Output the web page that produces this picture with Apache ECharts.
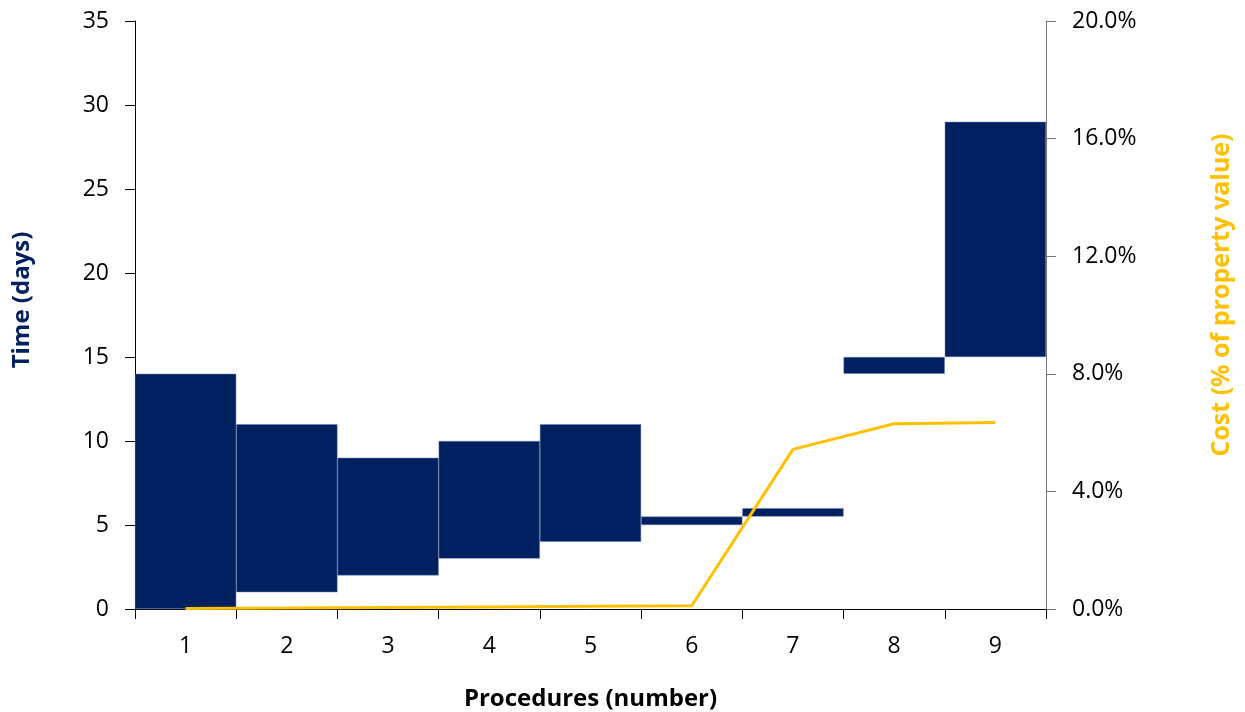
<!DOCTYPE html>
<html>
<head>
<meta charset="utf-8">
<script src="https://cdn.jsdelivr.net/npm/echarts@6/dist/echarts.min.js"></script>
<style>html,body{margin:0;padding:0;background:#fff}#c{width:1245px;height:712px}</style>
</head>
<body>
<div id="c"></div>
<script>
const categories = ['1','2','3','4','5','6','7','8','9'];
const timeStart = [0, 1, 2, 3, 4, 5, 5.5, 14, 15];
const timeEnd = [14, 11, 9, 10, 11, 5.5, 6, 15, 29];
const costPct = [0.02, 0.03, 0.05, 0.07, 0.09, 0.11, 5.43, 6.3, 6.34];
const leftTicks = [0, 5, 10, 15, 20, 25, 30, 35];
const rightTicks = [0, 4, 8, 12, 16, 20];

const duration = timeEnd.map((e, i) => +(e - timeStart[i]).toFixed(3));
const FONT = '"Open Sans", "Noto Sans", sans-serif';
const chart = echarts.init(document.getElementById('c'), null, {renderer: 'canvas'});
chart.setOption({
  animation: false,
  grid: {left: 135, right: 199, top: 21, bottom: 103, containLabel: false, outerBoundsMode: 'none'},
  xAxis: {
    type: 'category', data: categories,
    axisLine: {lineStyle: {color: '#000', width: 1}},
    axisTick: {show: true, length: 10, alignWithLabel: false, lineStyle: {color: '#000'}},
    axisLabel: {color: '#000', fontSize: 23, fontFamily: FONT, margin: 26},
    name: 'Procedures (number)', nameLocation: 'middle', nameGap: 78, nameMoveOverlap: false,
    nameTextStyle: {color: '#000', fontSize: 24, fontWeight: 'bold', fontFamily: FONT}
  },
  yAxis: [{
    type: 'value', min: 0, max: leftTicks[leftTicks.length - 1], interval: 5,
    splitLine: {show: false},
    axisLine: {show: true, lineStyle: {color: '#000'}},
    axisTick: {show: true, length: 10, lineStyle: {color: '#000'}},
    axisLabel: {color: '#000', fontSize: 23, fontFamily: FONT, margin: 26}
  }, {
    type: 'value', min: 0, max: rightTicks[rightTicks.length - 1], interval: 4,
    position: 'right',
    splitLine: {show: false},
    axisLine: {show: true, lineStyle: {color: '#777'}},
    axisTick: {show: true, length: 10, lineStyle: {color: '#777'}},
    axisLabel: {color: '#000', fontSize: 23, fontFamily: FONT, margin: 26,
      formatter: v => v.toFixed(1) + '%'}
  }],
  graphic: [
    {type: 'text', rotation: Math.PI / 2, x: 22, y: 300,
      style: {text: 'Time (days)', fill: '#002060', font: 'bold 24px ' + FONT,
        textAlign: 'center', textVerticalAlign: 'middle'}},
    {type: 'text', rotation: Math.PI / 2, x: 1222, y: 295,
      style: {text: 'Cost (% of property value)', fill: '#FFC000', font: 'bold 25px ' + FONT,
        textAlign: 'center', textVerticalAlign: 'middle'}}
  ],
  series: [{
    type: 'bar', stack: 't', data: timeStart, barCategoryGap: '0%',
    itemStyle: {color: 'transparent'}, silent: true
  }, {
    type: 'bar', stack: 't', data: duration, barCategoryGap: '0%',
    itemStyle: {color: '#002060', borderColor: '#6b7fa8', borderWidth: 0.5}
  }, {
    type: 'line', yAxisIndex: 1, data: costPct, symbol: 'none', z: 5,
    lineStyle: {color: '#FFC000', width: 3}
  }]
});
</script>
</body>
</html>
